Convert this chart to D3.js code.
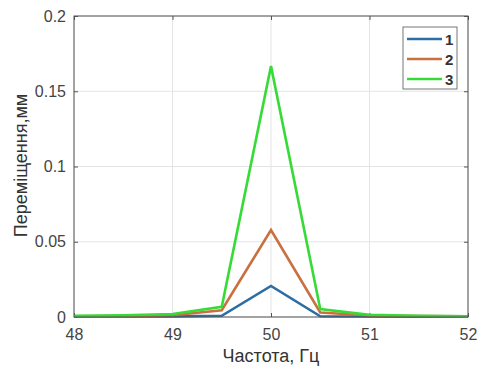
<!DOCTYPE html>
<html lang="uk">
<head>
<meta charset="UTF-8">
<script src="https://d3js.org/d3.v7.min.js"></script>
<style>
  body { margin: 0; background: #fff; }
  text { font-family: "Liberation Sans", Arial, sans-serif; }
</style>
</head>
<body>
<script>
    // Data
    const freq = [48, 48.5, 49, 49.5, 50, 50.5, 51, 51.5, 52];
    const series1 = [0.0003, 0.0003, 0.0004, 0.0008, 0.0206, 0.0005, 0.0003, 0.0002, 0.0002];
    const series2 = [0.0005, 0.0006, 0.0012, 0.0045, 0.0578, 0.003, 0.001, 0.0006, 0.0004];
    const series3 = [0.0008, 0.0011, 0.002, 0.0068, 0.1667, 0.0053, 0.0014, 0.0008, 0.0005];
    const seriesNames = ["1", "2", "3"];
    const seriesColors = ["#2c6ea3", "#c9703f", "#37db37"];
    const xTicks = [48, 49, 50, 51, 52];
    const yTicks = [0, 0.05, 0.1, 0.15, 0.2];

    const W = 481, H = 369;
    const margin = { top: 16, right: 13, bottom: 52, left: 74 };
    const width = W - margin.left - margin.right;
    const height = H - margin.top - margin.bottom;

    const svg = d3.select("body").append("svg")
        .attr("width", W)
        .attr("height", H);

    const g = svg.append("g")
        .attr("transform", "translate(" + margin.left + "," + margin.top + ")");

    const x = d3.scaleLinear().domain([48, 52]).range([0, width]);
    const y = d3.scaleLinear().domain([0, 0.2]).range([height, 0]);

    // grid
    g.append("g").selectAll("line").data(xTicks).join("line")
        .attr("x1", d => x(d)).attr("x2", d => x(d))
        .attr("y1", 0).attr("y2", height)
        .attr("stroke", "#e4e4e4").attr("stroke-width", 1);
    g.append("g").selectAll("line").data(yTicks).join("line")
        .attr("y1", d => y(d)).attr("y2", d => y(d))
        .attr("x1", 0).attr("x2", width)
        .attr("stroke", "#e4e4e4").attr("stroke-width", 1);

    // axes (ticks inside, matlab style)
    const xAxis = d3.axisBottom(x).tickValues(xTicks).tickSize(-4).tickPadding(12)
        .tickFormat(d3.format("d"));
    const yAxis = d3.axisLeft(y).tickValues(yTicks).tickSize(-4).tickPadding(8)
        .tickFormat(d => d === 0 ? "0" : String(d));

    const gx = g.append("g").attr("transform", "translate(0," + height + ")").call(xAxis);
    const gy = g.append("g").call(yAxis);
    [gx, gy].forEach(a => {
        a.select(".domain").remove();
        a.selectAll(".tick line").attr("stroke", "#555");
        a.selectAll(".tick text").attr("fill", "#444").style("font-size", "16px");
    });

    // top / right ticks
    g.append("g").call(d3.axisTop(x).tickValues(xTicks).tickSize(-4).tickFormat(""))
        .call(a => a.select(".domain").remove())
        .selectAll(".tick line").attr("stroke", "#555");
    g.append("g").attr("transform", "translate(" + width + ",0)")
        .call(d3.axisRight(y).tickValues(yTicks).tickSize(-4).tickFormat(""))
        .call(a => a.select(".domain").remove())
        .selectAll(".tick line").attr("stroke", "#555");

    // lines
    const allSeries = [series1, series2, series3];
    const line = d3.line().x((d, i) => x(freq[i])).y(d => y(d));
    allSeries.forEach((s, k) => {
        g.append("path").datum(s)
            .attr("fill", "none")
            .attr("stroke", seriesColors[k])
            .attr("stroke-width", 2.6)
            .attr("stroke-linejoin", "miter")
            .attr("d", line);
    });

    // box
    g.append("rect").attr("x", 0).attr("y", 0)
        .attr("width", width).attr("height", height)
        .attr("fill", "none").attr("stroke", "#555").attr("stroke-width", 1);

    // axis labels
    g.append("text")
        .attr("x", width / 2).attr("y", height + 45)
        .attr("text-anchor", "middle")
        .attr("fill", "#333").style("font-size", "18px")
        .text("Частота, Гц");
    g.append("text")
        .attr("transform", "translate(-47," + (height / 2 - 1) + ") rotate(-90)")
        .attr("text-anchor", "middle")
        .attr("fill", "#333").style("font-size", "18px")
        .text("Переміщення,мм");

    // legend
    const lg = g.append("g").attr("transform", "translate(" + (width - 65) + ",11)");
    lg.append("rect").attr("width", 54).attr("height", 62)
        .attr("fill", "#fff").attr("stroke", "#777").attr("stroke-width", 1);
    seriesNames.forEach((n, k) => {
        const yy = 12 + k * 20;
        lg.append("line").attr("x1", 4).attr("x2", 39)
            .attr("y1", yy).attr("y2", yy)
            .attr("stroke", seriesColors[k]).attr("stroke-width", 2.6);
        lg.append("text").attr("x", 42).attr("y", yy + 6)
            .attr("fill", "#333").style("font-size", "15px").style("font-weight", "bold")
            .text(n);
    });
</script>
</body>
</html>
